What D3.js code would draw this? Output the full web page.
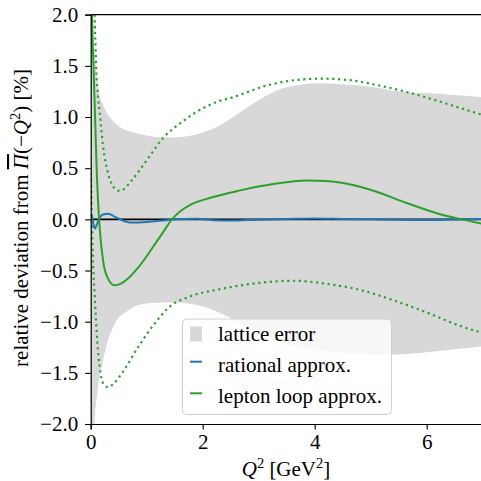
<!DOCTYPE html>
<html><head><meta charset="utf-8">
<script src="https://cdn.jsdelivr.net/npm/d3@7"></script>
<style>
body{margin:0;background:#fff;}
text{font-family:"Liberation Serif","Times New Roman",serif;fill:#000;}
</style></head>
<body><svg id="c" width="481" height="481"></svg>
<script>
// Lattice error band (upper / lower edges, %)
const bandX     = [0, 0.04, 0.07, 0.1, 0.12, 0.166, 0.22, 0.3, 0.4, 0.55, 0.7, 1.0, 1.3, 1.6, 1.95, 2.31, 2.72, 3.14, 3.5, 4.09, 4.45, 4.93, 5.52, 6.12, 7.0];
const bandUpper = [4, 2.1, 1.65, 1.45, 1.38, 1.2, 1.12, 1.03, 0.96, 0.89, 0.86, 0.82, 0.80, 0.805, 0.84, 0.92, 1.065, 1.21, 1.29, 1.33, 1.32, 1.30, 1.25, 1.23, 1.195];
const bandX2    = [0, 0.07, 0.1, 0.13, 0.22, 0.31, 0.43, 0.67, 1.02, 1.44, 1.92, 2.33, 2.75, 3.2, 3.6, 4.1, 4.6, 5.1, 5.5, 6.0, 6.5, 7.0];
const bandLower = [-4, -1.96, -1.78, -1.64, -1.38, -1.18, -1.02, -0.89, -0.82, -0.81, -0.84, -0.92, -1.04, -1.15, -1.23, -1.28, -1.31, -1.32, -1.32, -1.30, -1.27, -1.24];

// Rational approximation
const ratX = [0.005, 0.02, 0.045, 0.077, 0.11, 0.166, 0.23, 0.31, 0.46, 0.7, 1.0, 1.42, 1.89, 2.2, 2.5, 3.0, 3.5, 4.0, 4.5, 5.0, 5.5, 6.0, 6.5, 7.0];
const ratY = [0.03, 0.04, -0.04, -0.09, -0.05, 0.02, 0.05, 0.055, 0.016, -0.03, -0.025, -0.003, 0.007, -0.008, -0.012, -0.003, 0.003, 0.008, 0.004, 0.0, -0.005, -0.006, -0.002, 0.003];

// Lepton loop approximation (central, upper, lower)
const lepX = [0.01, 0.023, 0.05, 0.08, 0.11, 0.13, 0.16, 0.22, 0.31, 0.42, 0.55, 0.70, 0.85, 1.0, 1.15, 1.3, 1.45, 1.6, 1.77, 2.07, 2.67, 3.26, 3.86, 4.2, 4.45, 5.05, 5.64, 6.24, 6.71, 7.0];
const lepY = [2.6, 2.0, 1.5, 0.97, 0.43, 0.19, -0.08, -0.40, -0.58, -0.645, -0.625, -0.56, -0.47, -0.36, -0.24, -0.12, 0.0, 0.08, 0.14, 0.20, 0.283, 0.345, 0.38, 0.375, 0.36, 0.28, 0.16, 0.05, -0.01, -0.045];
const lepUpX = [0.06, 0.07, 0.085, 0.1, 0.13, 0.16, 0.22, 0.31, 0.43, 0.5, 0.55, 0.73, 1.0, 1.3, 1.59, 1.89, 2.25, 2.55, 3.14, 3.74, 4.12, 4.63, 5.11, 5.64, 6.12, 6.59, 7.0];
const lepUpY = [2.4, 2.0, 1.7, 1.45, 1.2, 1.05, 0.72, 0.45, 0.30, 0.28, 0.283, 0.38, 0.577, 0.80, 0.935, 1.05, 1.147, 1.195, 1.307, 1.366, 1.375, 1.36, 1.313, 1.245, 1.17, 1.09, 1.02];
const lepLoX = [0.003, 0.02, 0.04, 0.07, 0.12, 0.16, 0.22, 0.31, 0.4, 0.55, 0.845, 1.14, 1.44, 1.74, 2.33, 3.02, 3.62, 4.21, 4.81, 5.40, 6.0, 6.59, 7.0];
const lepLoY = [0.45, 0.0, -0.4, -0.73, -1.215, -1.44, -1.6, -1.64, -1.61, -1.51, -1.25, -1.02, -0.84, -0.76, -0.68, -0.62, -0.60, -0.63, -0.69, -0.79, -0.91, -1.04, -1.11];

const xTicks = [0, 2, 4, 6];
const yTicks = [-2.0, -1.5, -1.0, -0.5, 0.0, 0.5, 1.0, 1.5, 2.0];
const legendLabels = ["lattice error", "rational approx.", "lepton loop approx."];

const svg = d3.select("#c");
const L = 90.7, R = 482.7, T = 14.7, B = 424;
const x = d3.scaleLinear().domain([0, 7]).range([L, R]);
const y = d3.scaleLinear().domain([-2, 2]).range([B, T]);
const FS = 21, SUP = 14.5;

svg.append("defs").append("clipPath").attr("id", "clip")
  .append("rect").attr("x", L).attr("y", T).attr("width", R - L).attr("height", B - T);
const g = svg.append("g").attr("clip-path", "url(#clip)");

const curve = d3.curveMonotoneX;
const upPts = bandX.map((v, i) => [x(v), y(bandUpper[i])]);
const loPts = bandX2.map((v, i) => [x(v), y(bandLower[i])]);
const lineGen = d3.line().curve(curve);
const upPath = lineGen(upPts);
const loPath = lineGen(loPts.slice().reverse());
g.append("path")
  .attr("d", upPath + "L" + loPath.slice(1) + "Z")
  .attr("fill", "#d8d8d8").attr("stroke", "none");

// zero line
g.append("line").attr("x1", L).attr("x2", R).attr("y1", y(0)).attr("y2", y(0))
  .attr("stroke", "#000").attr("stroke-width", 1.6);

const line = d3.line().x(d => x(d[0])).y(d => y(d[1])).curve(curve);
const zip = (a, b) => a.map((v, i) => [v, b[i]]);

g.append("path").attr("d", line(zip(ratX, ratY)))
  .attr("fill", "none").attr("stroke", "#1f77b4").attr("stroke-width", 2);
g.append("path").attr("d", line(zip(lepX, lepY)))
  .attr("fill", "none").attr("stroke", "#2ca02c").attr("stroke-width", 2);
g.append("path").attr("d", line(zip(lepUpX, lepUpY)))
  .attr("fill", "none").attr("stroke", "#2ca02c").attr("stroke-width", 2.2)
  .attr("stroke-dasharray", "2.2,3.6");
g.append("path").attr("d", line(zip(lepLoX, lepLoY)))
  .attr("fill", "none").attr("stroke", "#2ca02c").attr("stroke-width", 2.2)
  .attr("stroke-dasharray", "2.2,3.6");

// axes
const xAxis = svg.append("g").attr("transform", `translate(0,${B})`)
  .call(d3.axisBottom(x).tickValues(xTicks).tickFormat(d3.format("d")).tickSizeOuter(0).tickSize(5.5).tickPadding(5));
const yAxis = svg.append("g").attr("transform", `translate(${L},0)`)
  .call(d3.axisLeft(y).tickValues(yTicks).tickFormat(d => d3.format(".1f")(d).replace("-", "\u2212")).tickSizeOuter(0).tickSize(5.5).tickPadding(7));
[xAxis, yAxis].forEach(a => {
  a.selectAll("text").style("font-size", FS + "px").style("font-family", '"Liberation Serif",serif').attr("fill", "#000");
  a.selectAll("line").attr("stroke", "#000").attr("stroke-width", 1.1);
  a.select(".domain").attr("stroke", "#000").attr("stroke-width", 1.2);
});
svg.append("line").attr("x1", L).attr("x2", R).attr("y1", T).attr("y2", T)
  .attr("stroke", "#000").attr("stroke-width", 1.2);

// x label
const xl = svg.append("text").attr("x", 286).attr("y", 476).attr("text-anchor", "middle").style("font-size", FS + "px");
xl.append("tspan").attr("font-style", "italic").text("Q");
xl.append("tspan").attr("dy", -8).style("font-size", SUP + "px").text("2");
xl.append("tspan").attr("dy", 8).text(" [GeV");
xl.append("tspan").attr("dy", -8).style("font-size", SUP + "px").text("2");
xl.append("tspan").attr("dy", 8).text("]");

// y label
const yl = svg.append("text").attr("transform", "translate(28,218) rotate(-90)")
  .attr("text-anchor", "middle").style("font-size", FS + "px");
yl.append("tspan").text("relative deviation from ");
yl.append("tspan").attr("font-style", "italic").style("text-decoration", "overline").text("\u03A0");
yl.append("tspan").text("(\u2212");
yl.append("tspan").attr("font-style", "italic").text("Q");
yl.append("tspan").attr("dy", -8).style("font-size", SUP + "px").text("2");
yl.append("tspan").attr("dy", 8).text(") [%]");

// legend
const lg = svg.append("g");
lg.append("rect").attr("x", 182.5).attr("y", 319).attr("width", 209).attr("height", 95.5)
  .attr("rx", 4).attr("fill", "#fff").attr("fill-opacity", 0.8).attr("stroke", "#d0d0d0").attr("stroke-width", 1);
const rows = [341, 372, 402.5];
lg.append("rect").attr("x", 190).attr("y", 326.5).attr("width", 12).attr("height", 15).attr("fill", "#d8d8d8");
lg.append("line").attr("x1", 190).attr("x2", 202).attr("y1", 361.7).attr("y2", 361.7).attr("stroke", "#1f77b4").attr("stroke-width", 2);
lg.append("line").attr("x1", 190).attr("x2", 202).attr("y1", 393.3).attr("y2", 393.3).attr("stroke", "#2ca02c").attr("stroke-width", 2);
legendLabels.forEach((t, i) => {
  lg.append("text").attr("x", 218).attr("y", rows[i]).style("font-size", FS + "px").text(t);
});
</script></body></html>
